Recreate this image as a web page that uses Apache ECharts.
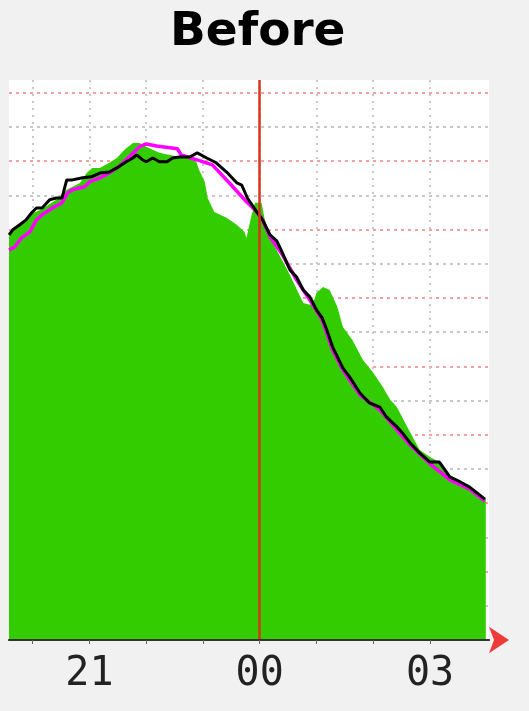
<!DOCTYPE html>
<html><head><meta charset="utf-8">
<script src="https://cdn.jsdelivr.net/npm/echarts@6/dist/echarts.min.js"></script>
<style>html,body{margin:0;padding:0;background:#f1f1f1}#c{width:529px;height:711px}</style>
</head><body><div id="c"></div>
<script>
const titleText = 'Before';
const hourTicks = [20, 21, 22, 23, 24, 25, 26, 27];
const hourLabels = [21, 24, 27];
const nowHour = 24;

const greenTimes = ['19:35','19:46','19:59','20:10','20:25','20:36','20:50','20:57','21:03','21:11','21:21','21:29','21:37','21:46','21:53','22:00','22:07','22:14','22:25','22:35','22:43','22:53','22:56','23:02','23:05','23:12','23:25','23:36','23:44','23:46','23:51','23:55','00:02','00:05','00:11','00:18','00:32','00:46','00:53','00:58','01:00','01:07','01:14','01:22','01:28','01:38','01:49','02:00','02:10','02:18','02:25','02:36','02:49','03:00','03:10','03:21','03:32','03:42','03:59'];
const greenValues = [11.84,12.11,12.46,12.60,12.87,13.16,13.36,13.65,13.80,13.80,13.95,14.09,14.33,14.53,14.53,14.42,14.33,14.24,14.18,14.12,14.12,13.98,13.74,13.39,12.92,12.51,12.34,12.13,11.93,11.75,12.37,12.78,12.78,12.34,11.78,11.40,10.67,9.85,9.80,9.97,10.15,10.32,10.23,9.74,9.15,8.77,8.19,7.81,7.40,7.02,6.81,6.23,5.56,5.35,5.20,4.80,4.65,4.50,4.15];

const magentaTimes = ['19:35','19:41','19:48','19:57','20:04','20:10','20:21','20:31','20:37','20:42','20:55','21:00','21:11','21:21','21:32','21:42','21:53','22:00','22:11','22:25','22:33','22:37','22:53','23:10','23:28','23:46','23:53','00:02','00:11','00:24','00:39','00:53','01:06','01:17','01:28','01:46','02:07','02:25','02:39','03:00','03:21','03:42','03:58'];
const magentaValues = [11.40,11.49,11.75,11.93,12.28,12.43,12.63,12.78,13.07,13.16,13.25,13.39,13.51,13.65,13.86,14.12,14.42,14.50,14.44,14.39,14.36,14.18,14.04,13.89,13.36,12.81,12.63,12.34,11.78,11.26,10.53,9.94,9.36,8.48,7.89,7.16,6.73,6.14,5.70,5.15,4.68,4.41,4.06];

const blackTimes = ['19:35','19:39','19:46','19:53','19:59','20:04','20:10','20:18','20:25','20:31','20:36','20:42','20:53','21:02','21:11','21:21','21:29','21:39','21:46','21:50','21:56','22:00','22:07','22:14','22:22','22:28','22:35','22:46','22:54','23:04','23:14','23:25','23:36','23:41','23:47','23:57','00:03','00:11','00:18','00:24','00:32','00:39','00:46','00:53','01:00','01:06','01:11','01:17','01:28','01:35','01:46','01:56','02:07','02:14','02:25','02:31','02:39','02:49','03:00','03:10','03:21','03:32','03:42','03:58'];
const blackValues = [11.84,11.99,12.13,12.28,12.49,12.63,12.63,12.87,12.92,12.92,13.45,13.45,13.51,13.54,13.65,13.68,13.80,13.98,14.09,14.18,14.04,13.98,14.09,13.98,13.98,14.09,14.12,14.12,14.24,14.09,13.95,13.68,13.36,13.30,12.92,12.51,12.28,11.84,11.67,11.32,10.82,10.61,10.23,10.03,9.65,9.42,9.06,8.57,7.95,7.69,7.22,6.93,6.81,6.52,6.23,6.05,5.76,5.47,5.20,5.20,4.77,4.62,4.47,4.12];

function toHours(s) {
  const p = s.split(':').map(Number);
  let t = p[0] + p[1] / 60;
  if (p[0] < 12) t += 24;
  return t;
}
function pairs(times, vals) { return times.map((t, i) => [toHours(t), vals[i]]); }

const xMin = toHours('19:35');
const xMax = 28.04;
const yMax = 16.37;

const chart = echarts.init(document.getElementById('c'), null, { renderer: 'canvas' });
chart.setOption({
  backgroundColor: '#f1f1f1',
  animation: false,
  title: {
    text: titleText, left: 165, top: 4,
    textStyle: { fontFamily: 'DejaVu Sans', fontWeight: 'bold', fontSize: 47, color: '#000' }
  },
  grid: { left: 9, right: 40, top: 80, bottom: 71, show: true, backgroundColor: '#ffffff', borderWidth: 0 },
  xAxis: [
    {
      type: 'value', min: xMin, max: xMax, z: 10,
      axisLine: { show: true, lineStyle: { color: '#333', width: 2 } },
      axisTick: { show: true, length: 4, customValues: hourTicks, lineStyle: { color: '#666', width: 1 } },
      axisLabel: {
        customValues: hourLabels, margin: 15,
        fontFamily: 'DejaVu Sans Mono', fontSize: 40, color: '#222',
        formatter: v => String(Math.round(v) % 24).padStart(2, '0')
      },
      splitLine: { show: false }
    },
    {
      type: 'value', min: xMin, max: xMax, z: 0, position: 'bottom',
      axisLine: { show: true, symbol: ['none', 'arrow'], symbolSize: [20, 20], symbolOffset: [0, 20],
        lineStyle: { color: '#ee3a3a', width: 2 } },
      axisTick: { show: false, customValues: hourTicks },
      axisLabel: { show: false },
      splitLine: { show: true, lineStyle: { color: '#c8c8c8', width: 2, type: [2, 5] } }
    }
  ],
  yAxis: {
    type: 'value', min: 0, max: yMax, interval: 1,
    axisLine: { show: false }, axisTick: { show: false }, axisLabel: { show: false },
    splitLine: { show: true, showMaxLine: false,
      lineStyle: { color: ['#f3a0a0', '#c8c8c8'], width: 2, type: [3, 4] } }
  },
  series: [
    {
      name: 'green', type: 'line', data: pairs(greenTimes, greenValues), showSymbol: false, z: 2,
      lineStyle: { width: 0 }, areaStyle: { color: '#33cc00', opacity: 1 }, itemStyle: { color: '#33cc00' }
    },
    {
      name: 'magenta', type: 'line', data: pairs(magentaTimes, magentaValues), showSymbol: false, z: 4,
      lineStyle: { color: '#ff00ff', width: 3.5 }, itemStyle: { color: '#ff00ff' }
    },
    {
      name: 'black', type: 'line', data: pairs(blackTimes, blackValues), showSymbol: false, z: 5,
      lineStyle: { color: '#000', width: 3 }, itemStyle: { color: '#000' },
      markLine: {
        silent: true, symbol: ['none', 'none'], label: { show: false }, z: 6,
        lineStyle: { color: '#d8341c', width: 2.5, type: 'solid' },
        data: [{ xAxis: nowHour }]
      }
    }
  ]
});
</script></body></html>
